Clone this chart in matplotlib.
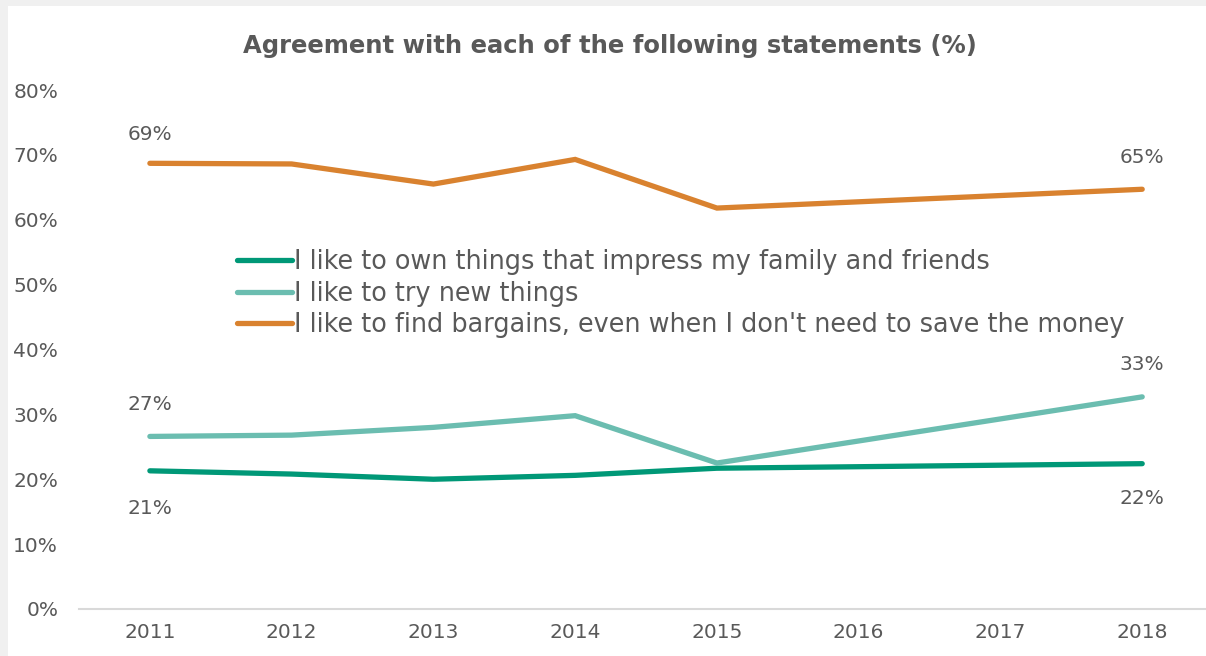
import numpy as np
import matplotlib
matplotlib.use("Agg")
import matplotlib.pyplot as plt
from matplotlib.patches import Rectangle

years = [2011, 2012, 2013, 2014, 2015, 2016, 2017, 2018]
impress = [21.3, 20.8, 20.0, 20.6, 21.7, np.nan, np.nan, 22.4]
try_new = [26.6, 26.8, 28.0, 29.8, 22.5, np.nan, np.nan, 32.7]
bargains = [68.7, 68.6, 65.5, 69.3, 61.8, np.nan, np.nan, 64.7]
series_names = [
    "I like to own things that impress my family and friends",
    "I like to try new things",
    "I like to find bargains, even when I don't need to save the money",
]
colors = ["#009877", "#6BBDB0", "#D9822F"]
yticks = [0, 10, 20, 30, 40, 50, 60, 70, 80]

text_color = "#595959"
plt.rcParams["font.family"] = ["DejaVu Sans"]

fig = plt.figure(figsize=(12.06, 6.56), dpi=100)
fig.patch.set_facecolor("#F0F0F0")
fig.patches.append(Rectangle((8 / 1206, 0), 1, 1 - 6 / 656, transform=fig.transFigure,
                             facecolor="white", edgecolor="none", zorder=-10))

ax = fig.add_axes([79 / 1206, 1 - 609 / 656, 1 - 79 / 1206, (609 - 90) / 656])
ax.set_facecolor("none")
ax.set_zorder(2)

x = np.arange(len(years))
lines = []
for vals, name, c in zip([impress, try_new, bargains], series_names, colors):
    v = np.array(vals, dtype=float)
    m = ~np.isnan(v)
    ln, = ax.plot(x[m], v[m], color=c, lw=3.8, solid_capstyle="round",
                  solid_joinstyle="miter", label=name, zorder=3)
    lines.append(ln)

ax.set_xlim(-0.5, len(years) - 0.55)
ax.set_ylim(0, 80)
ax.set_yticks(yticks)
ax.set_yticklabels([f"{t}%" for t in yticks])
ax.set_xticks(x)
ax.set_xticklabels([str(y) for y in years])
ax.tick_params(axis="both", length=0, labelsize=14.5, colors=text_color)
ax.tick_params(axis="y", pad=15)
ax.tick_params(axis="x", pad=10)
for s in ["top", "right", "left"]:
    ax.spines[s].set_visible(False)
ax.spines["bottom"].set_color("#D9D9D9")
ax.spines["bottom"].set_linewidth(1.5)

# data labels at first and last points
def label(i, vals, dy):
    ax.annotate(f"{vals[i]:.0f}%", (x[i], vals[i]), xytext=(0, dy),
                textcoords="offset points", ha="center", va="center",
                fontsize=14.5, color=text_color)

label(0, bargains, 21)
label(7, bargains, 23)
label(0, try_new, 23)
label(7, try_new, 23)
label(0, impress, -27)
label(7, impress, -25)

leg = ax.legend(handles=lines, loc="upper left", bbox_to_anchor=(0.131, 0.713),
                frameon=False, fontsize=18.4, handlelength=2.15, handletextpad=0.1,
                labelspacing=0.22, borderaxespad=0)
for t in leg.get_texts():
    t.set_color(text_color)
for h in leg.get_lines():
    h.set_linewidth(3.8)

fig.text(610 / 1206, 1 - 46 / 656, "Agreement with each of the following statements (%)",
         ha="center", va="center", fontsize=17.5, fontweight="bold", color=text_color)

fig.savefig("out.png", dpi=100, facecolor=fig.get_facecolor())
